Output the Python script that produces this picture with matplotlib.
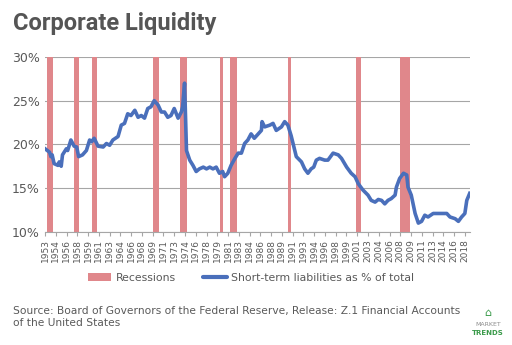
import matplotlib.pyplot as plt
import matplotlib.ticker as mticker
from matplotlib.patches import Patch
from matplotlib.lines import Line2D

# short-term liabilities as % of total
years = [1953.0, 1953.7, 1953.9, 1954.1, 1954.4, 1955.0, 1955.2, 1955.5, 1955.7, 1956.3,
         1956.5, 1957.0, 1957.5, 1957.9, 1958.2, 1958.8, 1959.4, 1959.9, 1960.2, 1960.6,
         1961.2, 1962.0, 1962.5, 1963.0, 1963.5, 1964.3, 1964.8, 1965.3, 1965.8, 1966.3,
         1966.9, 1967.4, 1967.9, 1968.4, 1968.9, 1969.4, 1969.9, 1970.5, 1971.0, 1971.5,
         1972.0, 1972.5, 1973.0, 1973.6, 1974.1, 1974.3, 1974.6, 1974.9, 1975.4, 1975.9,
         1976.4, 1976.9, 1977.5, 1978.0, 1978.5, 1979.0, 1979.5, 1980.0, 1980.5, 1980.8,
         1981.3, 1981.8, 1982.4, 1982.9, 1983.4, 1983.9, 1984.4, 1984.9, 1985.4, 1986.0,
         1986.5, 1986.6, 1987.0, 1987.8, 1988.3, 1988.8, 1989.6, 1990.1, 1990.6, 1991.1,
         1991.9, 1992.7, 1993.2, 1993.7, 1994.2, 1994.6, 1995.0, 1995.5, 1996.3, 1996.8,
         1997.6, 1998.4, 1998.9, 1999.7, 2000.4, 2001.0, 2001.5, 2002.2, 2003.0, 2003.5,
         2004.1, 2004.6, 2005.1, 2005.6, 2006.1, 2006.6, 2007.2, 2007.4, 2007.9, 2008.5,
         2009.0, 2009.2, 2009.7, 2010.3, 2010.8, 2011.3, 2011.8, 2012.3, 2013.1, 2013.9,
         2014.6, 2015.2, 2015.7, 2016.5, 2017.0, 2017.5, 2018.0, 2018.3, 2018.75]
liab_pct = [19.5, 19.1, 18.6, 18.8, 17.8, 17.6, 18.0, 17.5, 18.8, 19.5,
            19.3, 20.5, 19.8, 19.7, 18.6, 18.8, 19.3, 20.5, 20.3, 20.7,
            19.8, 19.7, 20.1, 19.9, 20.5, 20.9, 22.2, 22.4, 23.5, 23.3,
            23.9, 23.1, 23.3, 23.0, 24.1, 24.3, 25.0, 24.5, 23.7, 23.7,
            23.1, 23.3, 24.1, 23.0, 23.7, 24.3, 27.0, 19.3, 18.2, 17.6,
            16.9, 17.2, 17.4, 17.2, 17.4, 17.2, 17.4, 16.7, 16.9, 16.3,
            16.7, 17.6, 18.4, 19.0, 19.0, 20.1, 20.5, 21.2, 20.7, 21.2,
            21.6, 22.6, 22.0, 22.2, 22.4, 21.6, 22.0, 22.6, 22.2, 21.0,
            18.6, 18.0, 17.2, 16.7, 17.2, 17.4, 18.2, 18.4, 18.2, 18.2,
            19.0, 18.8, 18.4, 17.4, 16.7, 16.3, 15.5, 14.8, 14.2, 13.6,
            13.4, 13.7, 13.6, 13.2, 13.6, 13.8, 14.2, 15.1, 16.1, 16.7,
            16.5, 15.1, 14.2, 12.1, 11.0, 11.2, 11.9, 11.7, 12.1, 12.1,
            12.1, 12.1, 11.7, 11.5, 11.2, 11.7, 12.1, 13.6, 14.4]

# recession bands (start, end) in decimal years, as drawn
rec_start = [1953.25, 1957.43, 1960.22, 1969.79, 1973.82, 1980.02, 1981.57, 1990.61, 2001.11, 2007.93]
rec_end   = [1954.18, 1958.21, 1961.0, 1970.72, 1974.95, 1980.53, 1982.77, 1991.14, 2001.88, 2009.48]

tick_years = [1953 + k * 5 / 3 for k in range(40)]
tick_labels = [str(int(round(t, 3))) for t in tick_years]

red = '#e0878b'
blue = '#4a6fbb'
grey = '#595959'

fig = plt.figure(figsize=(5.12, 3.45), dpi=100)
ax = fig.add_axes([0.088, 0.328, 0.83, 0.507])

for s, e in zip(rec_start, rec_end):
    ax.axvspan(s, e, ymin=0, ymax=1, color=red, lw=0, zorder=1)
ax.plot(years, liab_pct, color=blue, lw=2.6, zorder=3, solid_joinstyle='round')

ax.set_xlim(1953, 2018.8)
ax.set_ylim(10, 30)
ax.set_yticks([10, 15, 20, 25, 30])
ax.yaxis.set_major_formatter(mticker.FuncFormatter(lambda v, p: '%d%%' % v))
ax.grid(axis='y', color='#a6a6a6', lw=0.8, zorder=0)
ax.set_axisbelow(True)
ax.set_xticks(tick_years)
ax.set_xticklabels(tick_labels, rotation=90, fontsize=6.5, color=grey)
ax.tick_params(axis='y', length=0, labelsize=9, colors=grey, pad=4)
ax.tick_params(axis='x', length=3, color='#a6a6a6', pad=2)
for side in ['top', 'right', 'left']:
    ax.spines[side].set_visible(False)
ax.spines['bottom'].set_color('#a6a6a6')

fig.text(0.025, 0.912, 'Corporate Liquidity', fontsize=17, fontweight='bold',
         color='#555555', family='Roboto')

handles = [Patch(facecolor=red, edgecolor='none'),
           Line2D([0], [0], color=blue, lw=3, solid_capstyle='round')]
fig.legend(handles, ['Recessions', 'Short-term liabilities as % of total'],
           loc='center', bbox_to_anchor=(0.49, 0.195), ncol=2, frameon=False,
           fontsize=7.8, labelcolor=grey, handlelength=2.2, columnspacing=2.5,
           handletextpad=0.4)

fig.text(0.025, 0.081, 'Source: Board of Governors of the Federal Reserve, Release: Z.1 Financial Accounts\n'
         'of the United States', fontsize=7.7, color=grey, va='center', linespacing=1.35)

fig.text(0.953, 0.058, 'MARKET', fontsize=4.5, color='#8c8c8c', ha='center', va='center')
fig.text(0.953, 0.035, 'TRENDS', fontsize=5, color='#3a9a4a', ha='center', va='center',
         fontweight='bold')
fig.text(0.953, 0.093, '\u2302', fontsize=8, color='#3a9a4a', ha='center', va='center')

fig.savefig('out.png', dpi=100)
